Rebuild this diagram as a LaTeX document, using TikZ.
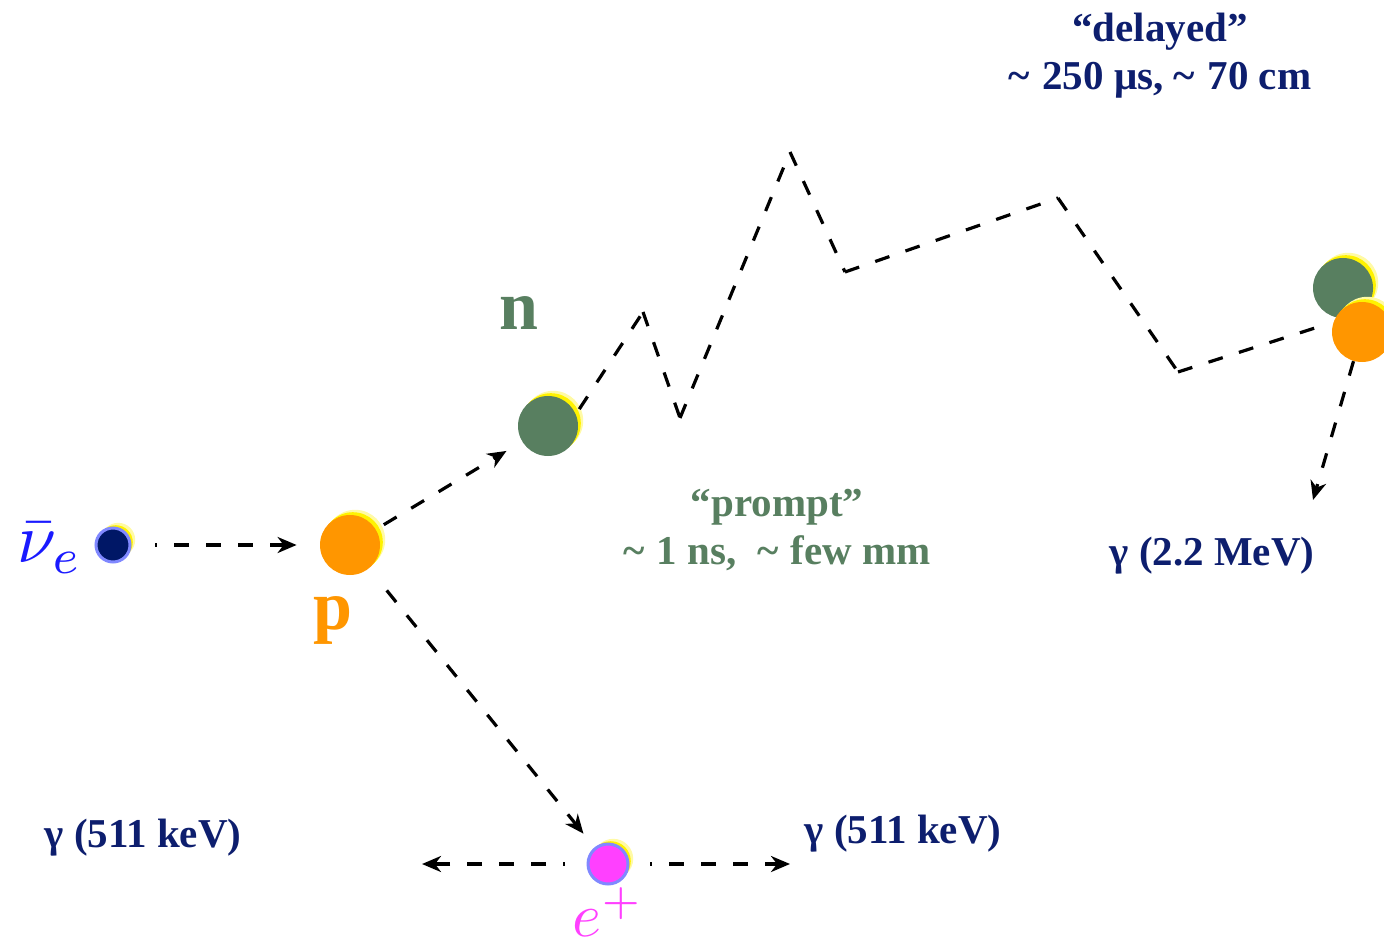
\documentclass[tikz,border=0pt]{standalone}
\usepackage{fontspec}
\setmainfont{Liberation Serif}
\usetikzlibrary{arrows.meta, calc}
\definecolor{navytext}{HTML}{0D1E6E}
\definecolor{neutron}{HTML}{587F60}
\definecolor{proton}{HTML}{FF9600}
\definecolor{positron}{HTML}{FF40FF}
\definecolor{nuball}{HTML}{001766}
\definecolor{rimblue}{HTML}{8088FF}
\definecolor{nublue}{HTML}{1A1AFF}
\newcommand{\tl}{\textasciitilde\hspace{0.3em}}
\tikzset{
    particle/.style={
        circle, inner sep=0pt, minimum size=#1,
        preaction={fill=yellow!35, transform canvas={shift={(2.6pt,2.6pt)}}},
        preaction={fill=yellow, transform canvas={shift={(1.4pt,1.4pt)}}}
    },
    rimmed/.style={
        draw=rimblue, line width=1.5pt
    },
    track/.style={
        line width=1.6pt, dash pattern=on 7.5pt off 8.5pt
    },
    arrow/.style={
        track, -{Stealth[length=9.5pt, width=8pt, inset=3pt]}
    },
    navylabel/.style={
        text=navytext, font=\fontsize{20.5}{24}\selectfont\bfseries, align=center
    },
    greenlabel/.style={
        text=neutron, font=\fontsize{20.5}{24}\selectfont\bfseries, align=center
    },
    bigletter/.style={
        font=\fontsize{35}{40}\selectfont\bfseries
    }
}

\begin{document}
\begin{tikzpicture}[x=0.5pt, y=-0.5pt]

    \useasboundingbox (0,0) rectangle (1384,946);

    \node[particle=17pt, rimmed, fill=nuball]     (nu)   at (113,545)  {};
    \node[particle=30pt, fill=proton]             (p)    at (350,545)  {};
    \node[particle=30pt, fill=neutron]            (n)    at (548,426)  {};
    \node[particle=20pt, rimmed, fill=positron]   (e)    at (608,864)  {};
    \node[particle=30pt, fill=neutron]            (ncap) at (1343,288) {};
    \node[particle=30pt, fill=proton]             (pcap) at (1362,332) {};

    \node[text=nublue]   (nulabel) at (50,548) {\scalebox{3.5}{$\bar{\nu}_e$}};
    \node[text=positron, inner sep=0pt] (elabel) at (608,912) {\scalebox{3.1}{$e^+$}};
    \node[bigletter, text=proton]  (plabel) at (333,620) {p};
    \node[bigletter, text=neutron] (nlabel) at (519,313) {n};

    \coordinate (z1) at (643,312);
    \coordinate (z2) at (680,418);
    \coordinate (z3) at (790,152);
    \coordinate (z4) at (845,272);
    \coordinate (z5) at (1058,198);
    \coordinate (z6) at (1178,372);
    \coordinate (z7) at (1318,327);
    \coordinate (gleft)  at (422,864);
    \coordinate (gright) at (790,864);
    \coordinate (gcap)   at (1313,500);

    \draw[arrow, dash phase=6.5pt, shorten <=11.75pt, shorten >=11.5pt] (nu) -- (p);
    \draw[arrow, shorten <=4.5pt, shorten >=9pt] (p) -- (n);
    \draw[arrow, shorten <=14pt, shorten >=8.75pt] (p) -- (e);
    \draw[arrow, dash phase=6.5pt, shorten <=10.75pt] (e) -- (gleft);
    \draw[arrow, dash phase=6.5pt, shorten <=10.25pt] (e) -- (gright);
    \draw[arrow] (pcap) -- (gcap);

    \draw[track, shorten <=3pt] (n.23) -- (z1);
    \foreach \a/\b in {z1/z2, z2/z3, z3/z4, z4/z5, z5/z6, z6/z7}
        \draw[track] (\a) -- (\b);

    \node[navylabel]  (delayed) at (1160,56)  {“delayed”\\\tl 250 μs, \tl 70 cm};
    \node[greenlabel] (prompt)  at (777,530)  {“prompt”\\\tl 1 ns,\ \ \tl few mm};
    \node[navylabel]  (gcaplabel)   at (1212,556) {γ (2.2 MeV)};
    \node[navylabel]  (gleftlabel)  at (143,838)  {γ (511 keV)};
    \node[navylabel]  (grightlabel) at (903,834)  {γ (511 keV)};

\end{tikzpicture}
\end{document}
